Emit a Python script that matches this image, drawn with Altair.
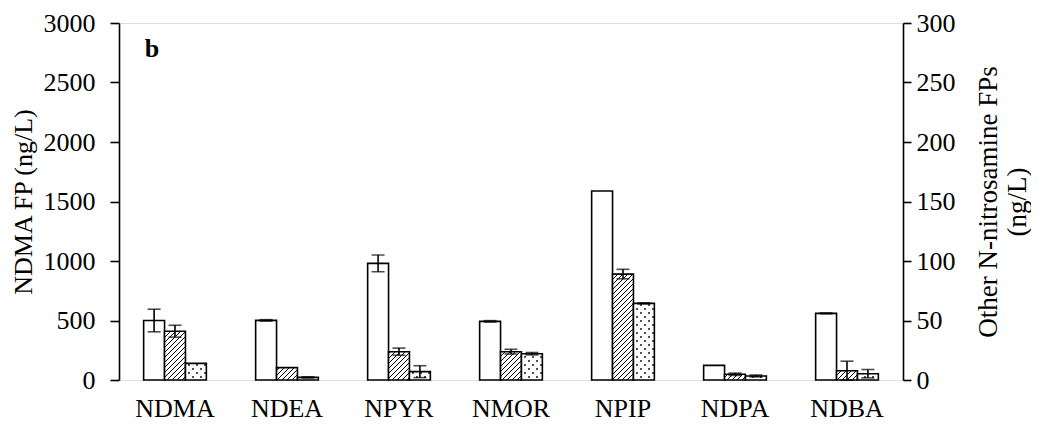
import altair as alt
import pandas as pd
import jinja2

categories = ["NDMA", "NDEA", "NPYR", "NMOR", "NPIP", "NDPA", "NDBA"]
series = ["S1", "S2", "S3"]
# NDMA values in ng/L on left axis; others in ng/L on right axis
vals_s1 = [500, 50.1, 98, 49.3, 158.8, 12.3, 56]
vals_s2 = [410, 10.4, 23.8, 23.8, 89, 4.8, 7.8]
vals_s3 = [140, 2.2, 7, 22.1, 64.4, 3.4, 5.3]
err_s1 = [95, 0.6, 7, 0.6, 0, 0, 0.4]
err_s2 = [50, 0, 3, 2, 4, 1, 8]
err_s3 = [0, 0.5, 5, 1, 0.5, 0.8, 3.5]

rows = []
for vals, errs, s in [(vals_s1, err_s1, "S1"), (vals_s2, err_s2, "S2"), (vals_s3, err_s3, "S3")]:
    for c, v, e in zip(categories, vals, errs):
        rows.append({"cat": c, "series": s, "value": v, "lo": v - e, "hi": v + e, "err": e})
df = pd.DataFrame(rows)

FONT = "Liberation Serif"
FS = 26

xenc = alt.X("cat:N", sort=categories,
             scale=alt.Scale(domain=categories, paddingInner=0.44, paddingOuter=0.22),
             axis=alt.Axis(title=None, labelAngle=0, ticks=False, domain=False,
                           labelFont=FONT, labelFontSize=FS, labelColor="black",
                           labelPadding=15))
xoff = alt.XOffset("series:N", sort=series, scale=alt.Scale(domain=series, paddingInner=0, paddingOuter=0))
fill = alt.Color("series:N", scale=alt.Scale(domain=series, range=["white", "url(#hatch)", "url(#dots)"]), legend=None)


def group(data, yaxis, domain):
    y = alt.Y("value:Q", scale=alt.Scale(domain=domain, nice=False, zero=True), axis=yaxis)
    bars = alt.Chart(data).mark_bar(stroke="black", strokeWidth=1.6).encode(
        x=xenc, xOffset=xoff, y=y, color=fill)
    ed = data[data["err"] > 0]
    eb = alt.Chart(ed)
    rule = eb.mark_rule(color="black", strokeWidth=1.6).encode(
        x=xenc, xOffset=xoff, y=alt.Y("lo:Q"), y2="hi:Q")
    capt = eb.mark_tick(color="black", thickness=1.6, size=13).encode(x=xenc, xOffset=xoff, y="hi:Q")
    capb = eb.mark_tick(color="black", thickness=1.6, size=13).encode(x=xenc, xOffset=xoff, y="lo:Q")
    return alt.layer(bars, rule, capt, capb)


left_axis = alt.Axis(title="NDMA FP (ng/L)", values=list(range(0, 3001, 500)), format="d", grid=False,
                     domainColor="black", domainWidth=1.6, tickColor="black", tickWidth=1.6, tickSize=9,
                     labelFont=FONT, labelFontSize=FS, labelColor="black", labelPadding=15,
                     titleFont=FONT, titleFontSize=FS, titleFontWeight="normal", titleColor="black",
                     titlePadding=7)
right_axis = alt.Axis(title=["Other N-nitrosamine FPs", "(ng/L)"], orient="right",
                      values=list(range(0, 301, 50)), format="d", grid=False,
                      domainColor="black", domainWidth=1.6, tickColor="black", tickWidth=1.6, tickSize=8,
                      labelFont=FONT, labelFontSize=FS, labelColor="black", labelPadding=5,
                      titleFont=FONT, titleFontSize=27, titleFontWeight="normal", titleColor="black",
                      titleAngle=270, titlePadding=18)

left = group(df[df["cat"] == "NDMA"], left_axis, [0, 3000])
right = group(df[df["cat"] != "NDMA"], right_axis, [0, 300])

label_b = alt.Chart(pd.DataFrame({"t": ["b"]})).mark_text(
    font=FONT, fontSize=FS, fontWeight="bold", color="black", align="center", baseline="alphabetic"
).encode(text="t:N", x=alt.value(33), y=alt.value(34))

chart = alt.layer(left, right, label_b).resolve_scale(y="independent").properties(
    width=784, height=357,
    autosize=alt.AutoSizeParams(type="none"),
    padding={"left": 111, "top": 15, "right": 128, "bottom": 45},
).configure_view(stroke="black", strokeWidth=1.6).configure(background="white")

TEMPLATE = jinja2.Template("""<!DOCTYPE html>
<html>
<head>
<style>
html, body { overflow: hidden; }
#{{ output_div }}.vega-embed { width: 100%; display: flex; }
#{{ output_div }} svg { overflow: visible; }
</style>
<script type="text/javascript" src="{{ base_url }}/vega@{{ vega_version }}"></script>
<script type="text/javascript" src="{{ base_url }}/vega-lite@{{ vegalite_version }}"></script>
<script type="text/javascript" src="{{ base_url }}/vega-embed@{{ vegaembed_version }}"></script>
</head>
<body>
<svg width="0" height="0" style="position:absolute">
<defs>
<pattern id="hatch" patternUnits="userSpaceOnUse" width="5" height="5">
<rect width="5" height="5" fill="white"/>
<path d="M-1,1 l2,-2 M0,5 l5,-5 M4,6 l2,-2" stroke="black" stroke-width="1"/>
</pattern>
<pattern id="dots" patternUnits="userSpaceOnUse" width="8" height="8">
<rect width="8" height="8" fill="white"/>
<circle cx="2" cy="2" r="0.9" fill="black"/>
<circle cx="6" cy="6" r="0.9" fill="black"/>
</pattern>
</defs>
</svg>
<div id="{{ output_div }}"></div>
<script type="text/javascript">
  vegaEmbed("#{{ output_div }}", {{ spec }}, {{ embed_options }}).catch(console.error);
</script>
</body>
</html>
""")

chart.save("out.html", embed_options={"renderer": "svg", "actions": False}, template=TEMPLATE)
